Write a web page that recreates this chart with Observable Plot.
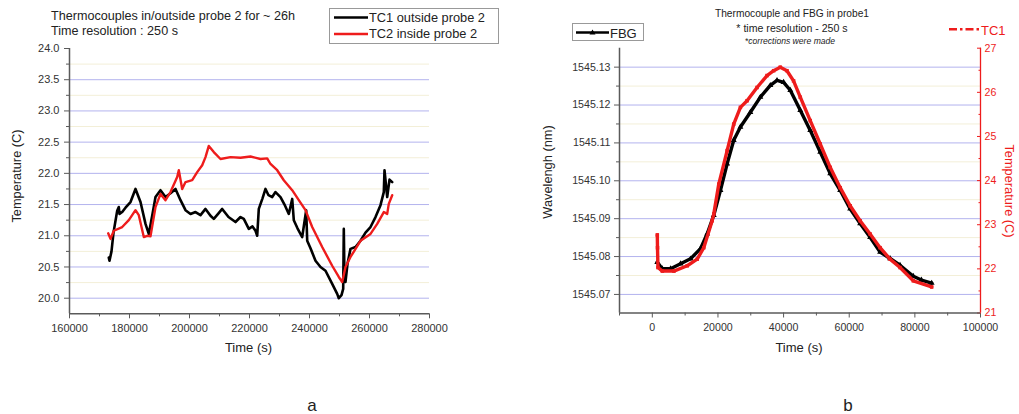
<!DOCTYPE html>
<html><head><meta charset="utf-8">
<script src="https://cdn.jsdelivr.net/npm/d3@7"></script>
<script src="https://cdn.jsdelivr.net/npm/@observablehq/plot@0.6"></script>
<style>
body{margin:0;background:#fff;font-family:"Liberation Sans",Arial,sans-serif;}
#wrap{position:relative;width:1019px;height:414px;overflow:hidden;background:#fff;}
.t{position:absolute;white-space:nowrap;color:#222;line-height:1;}
.rot{position:absolute;white-space:nowrap;line-height:1;transform:translate(-50%,-50%) rotate(-90deg);}
.rot90{position:absolute;white-space:nowrap;line-height:1;transform:translate(-50%,-50%) rotate(90deg);}
.box{position:absolute;border:1px solid #999;background:#fff;box-sizing:border-box;}
svg.plot{position:absolute;}
</style></head>
<body><div id="wrap"></div>
<script>
// ---------- Panel a: thermocouples in/outside probe 2 ----------
const aTimeDomain = [160000, 280000];
const aTempDomain = [19.75, 24.0];
const aTimeTicks = [160000, 180000, 200000, 220000, 240000, 260000, 280000];
const aTimeMinor = [170000, 190000, 210000, 230000, 250000, 270000];
const aTempTicks = [20.0, 20.5, 21.0, 21.5, 22.0, 22.5, 23.0, 23.5, 24.0];
const aTempMinor = [20.25, 20.75, 21.25, 21.75, 22.25, 22.75, 23.25, 23.75];
const aGrid = [20.0, 20.5, 21.0, 21.5, 22.0, 22.5, 23.0, 23.5];

const tc1Time = [173100,173333,174000,174667,175900,176433,176667,177567,178667,180333,182000,183667,185333,186433,187667,188667,190333,192000,193667,195333,197000,198667,200333,202000,203667,205333,207000,208100,209667,210900,213000,215333,217000,218100,219767,221000,222000,222567,223100,224333,225333,226333,227567,228667,230333,231667,233100,234233,234767,236000,237567,238900,239233,240333,242000,243667,245333,247567,249233,249767,250667,251233,251433,251667,252000,252667,253667,255333,257000,258667,260333,262000,263667,264767,265000,265900,266667,267567];
const tc1Temp = [20.65,20.60,20.75,21.05,21.40,21.46,21.35,21.38,21.45,21.54,21.75,21.54,21.19,21.03,21.35,21.62,21.73,21.62,21.68,21.75,21.57,21.41,21.35,21.38,21.33,21.43,21.32,21.27,21.36,21.43,21.30,21.22,21.30,21.27,21.11,21.15,21.08,21.00,21.43,21.60,21.75,21.65,21.62,21.70,21.62,21.50,21.35,21.59,21.25,21.12,20.98,21.41,20.92,20.80,20.60,20.50,20.44,20.23,20.07,20.00,20.05,20.15,21.11,20.30,20.26,20.55,20.79,20.82,20.92,21.05,21.14,21.30,21.49,21.70,22.05,21.62,21.90,21.86];

const tc2Time = [172900,173667,174767,177567,179767,182000,183100,184767,185900,187000,188667,190333,192000,193667,195900,196433,197567,198667,200900,202567,204233,205333,206433,208100,210333,213667,217000,220333,223667,225900,227000,229233,231433,234233,236433,238667,240900,244233,247567,249767,250900,252000,253667,257000,260333,262567,264767,265900,266433,267567];
const tc2Temp = [21.04,20.95,21.08,21.14,21.25,21.41,21.33,20.98,21.00,20.99,21.46,21.67,21.57,21.70,21.94,22.05,21.75,21.86,21.89,22.02,22.13,22.26,22.44,22.34,22.23,22.26,22.25,22.27,22.23,22.24,22.15,22.05,21.89,21.73,21.57,21.41,21.14,20.82,20.52,20.34,20.26,20.50,20.66,20.92,21.03,21.19,21.38,21.35,21.51,21.65];

// ---------- Panel b: thermocouple and FBG in probe 1 ----------
const bTimeDomain = [-10000, 100000];
const bWaveDomain = [1545.0651, 1545.1350];
const bTempDomain = [21, 27];
const bTimeTicks = [0, 20000, 40000, 60000, 80000, 100000];
const bTimeMinor = [-10000, 10000, 30000, 50000, 70000, 90000];
const bWaveTicks = [1545.07, 1545.08, 1545.09, 1545.10, 1545.11, 1545.12, 1545.13];
const bWaveMinor = [1545.075, 1545.085, 1545.095, 1545.105, 1545.115, 1545.125];
const bTempTicks = [21, 22, 23, 24, 25, 26, 27];
const bTempMinor = [21.5, 22.5, 23.5, 24.5, 25.5, 26.5];

const fbgTime = [1520,3040,5563,8603,11643,14683,16720,18726,20763,22800,24806,26843,29883,32923,35963,38000,40006,42043,45083,48123,51163,54203,57243,60283,63323,66363,69403,72443,75483,79526,82000,85120];
const fbgWave = [1545.0785,1545.0768,1545.0768,1545.0781,1545.0794,1545.0821,1545.0860,1545.0909,1545.0975,1545.1045,1545.1107,1545.1142,1545.1181,1545.1221,1545.1252,1545.1265,1545.1260,1545.1239,1545.1186,1545.1133,1545.1076,1545.1019,1545.0975,1545.0926,1545.0887,1545.0851,1545.0812,1545.0795,1545.0777,1545.0748,1545.0738,1545.0730];

const tcbTime = [1520,1580,1720,3040,6570,10640,13680,15680,18230,18726,20250,22800,24806,26843,28870,31910,34950,36970,38990,41020,43040,45083,48123,51163,54203,57243,60283,63323,66363,69403,72443,75483,79526,85120];
const tcbTemp = [22.77,22.48,22.03,21.95,21.95,22.07,22.22,22.48,23.09,23.24,23.92,24.68,25.28,25.66,25.81,26.11,26.38,26.49,26.57,26.49,26.26,25.89,25.36,24.83,24.30,23.84,23.43,23.09,22.79,22.48,22.22,22.03,21.73,21.59];

// ---------- build ----------
const wrap = document.getElementById("wrap");
const fmtInt = d3.format("d");
const font = "'Liberation Sans', Arial, sans-serif";
const axisGray = "#5a5a5a";
const gridBlue = "#b3b3ee";
const gridMinor = "#f3efd8";
const red = "#ee1c1c";

const tc1Rows = tc1Time.map((t, i) => ({t, v: tc1Temp[i]}));
const tc2Rows = tc2Time.map((t, i) => ({t, v: tc2Temp[i]}));

const plotA = Plot.plot({
  width: 449, height: 360,
  marginLeft: 69, marginRight: 20, marginTop: 48, marginBottom: 46.7,
  style: {fontFamily: font, fontSize: "11px", color: "#333", background: "transparent", overflow: "visible"},
  x: {domain: aTimeDomain},
  y: {domain: aTempDomain},
  marks: [
    Plot.ruleY(aTempMinor, {stroke: gridMinor, strokeWidth: 1}),
    Plot.ruleY(aGrid, {stroke: gridBlue, strokeWidth: 1}),
    Plot.axisX({ticks: aTimeTicks, tickSize: 5, tickPadding: 5, tickFormat: fmtInt, label: null, stroke: axisGray, fill: "#333"}),
    Plot.axisX({ticks: aTimeMinor, tickSize: 3, fill: "none", label: null, stroke: axisGray}),
    Plot.axisY({ticks: aTempTicks, tickSize: 5, tickPadding: 5, tickFormat: d3.format(".1f"), label: null, stroke: axisGray, fill: "#333"}),
    Plot.axisY({ticks: aTempMinor, tickSize: 3, fill: "none", label: null, stroke: axisGray}),
    Plot.ruleX([aTimeDomain[0]], {stroke: axisGray, strokeWidth: 1.5}),
    Plot.ruleY([aTempDomain[0]], {stroke: axisGray, strokeWidth: 1.5}),
    Plot.line(tc1Rows, {x: "t", y: "v", stroke: "#000", strokeWidth: 2.6, strokeLinejoin: "round"}),
    Plot.line(tc2Rows, {x: "t", y: "v", stroke: red, strokeWidth: 2.4, strokeLinejoin: "round"})
  ]
});
plotA.classList.add("plot");
plotA.style.left = "0px"; plotA.style.top = "0px";
wrap.appendChild(plotA);

// map right-axis temperature onto the wavelength scale (dual axis)
const toW = T => bWaveDomain[0] + (T - bTempDomain[0]) / (bTempDomain[1] - bTempDomain[0]) * (bWaveDomain[1] - bWaveDomain[0]);
const toT = W => bTempDomain[0] + (W - bWaveDomain[0]) / (bWaveDomain[1] - bWaveDomain[0]) * (bTempDomain[1] - bTempDomain[0]);

const fbgRows = fbgTime.map((t, i) => ({t, v: fbgWave[i]}));
const tcbRows = tcbTime.map((t, i) => ({t, v: toW(tcbTemp[i])}));

const plotB = Plot.plot({
  width: 489, height: 360,
  marginLeft: 89, marginRight: 39, marginTop: 47.7, marginBottom: 47.5,
  style: {fontFamily: font, fontSize: "10.6px", color: "#333", background: "transparent", overflow: "visible"},
  x: {domain: bTimeDomain},
  y: {domain: bWaveDomain},
  marks: [
    Plot.ruleY(bWaveMinor, {stroke: gridMinor, strokeWidth: 1}),
    Plot.ruleY(bWaveTicks, {stroke: gridBlue, strokeWidth: 1}),
    Plot.axisX({ticks: bTimeTicks, tickSize: 5, tickPadding: 5, tickFormat: fmtInt, label: null, stroke: axisGray, fill: "#333"}),
    Plot.axisX({ticks: bTimeMinor, tickSize: 3, fill: "none", label: null, stroke: axisGray}),
    Plot.axisY({ticks: bWaveTicks, tickSize: 5, tickPadding: 4, tickFormat: d3.format(".2f"), label: null, stroke: axisGray, fill: "#333"}),
    Plot.axisY({ticks: bWaveMinor, tickSize: 3, fill: "none", label: null, stroke: axisGray}),
    Plot.axisY({ticks: bTempTicks.map(toW), anchor: "right", tickSize: 0, tickPadding: 4, tickFormat: w => fmtInt(Math.round(toT(w))), label: null, fill: red}),
    Plot.axisY({ticks: bTempTicks.map(toW), anchor: "right", tickSize: 4, dx: -4, fill: "none", label: null, stroke: red}),
    Plot.axisY({ticks: bTempMinor.map(toW), anchor: "right", tickSize: 2.5, dx: -2.5, fill: "none", label: null, stroke: red}),
    Plot.ruleX([bTimeDomain[0]], {stroke: axisGray, strokeWidth: 1.5}),
    Plot.ruleY([bWaveDomain[0]], {stroke: axisGray, strokeWidth: 1.5}),
    Plot.ruleX([bTimeDomain[1]], {stroke: red, strokeWidth: 1.3}),
    Plot.line(fbgRows, {x: "t", y: "v", stroke: "#000", strokeWidth: 3.4, strokeLinejoin: "round"}),
    Plot.dot(fbgRows, {x: "t", y: "v", symbol: "triangle", r: 2.2, fill: "#000"}),
    Plot.line(tcbRows, {x: "t", y: "v", stroke: red, strokeWidth: 3.4, strokeLinejoin: "round"}),
    Plot.dot(tcbRows, {x: "t", y: "v", symbol: "square", r: 2, fill: red})
  ]
});
plotB.classList.add("plot");
plotB.style.left = "530px"; plotB.style.top = "0px";
wrap.appendChild(plotB);

// ---------- text & legends ----------
function addText(txt, left, baseline, size, extra = {}) {
  const d = document.createElement("div");
  d.className = "t";
  d.textContent = txt;
  d.style.left = left + "px";
  d.style.top = (baseline - 0.846 * size) + "px";
  d.style.fontSize = size + "px";
  Object.assign(d.style, extra);
  wrap.appendChild(d);
  return d;
}
function addCentered(txt, cx, baseline, size, extra = {}) {
  const d = addText(txt, cx, baseline, size, extra);
  d.style.transform = "translateX(-50%)";
  return d;
}
function addRot(txt, cx, cy, size, cls, color) {
  const d = document.createElement("div");
  d.className = cls;
  d.textContent = txt;
  d.style.left = cx + "px"; d.style.top = cy + "px";
  d.style.fontSize = size + "px";
  d.style.color = color;
  wrap.appendChild(d);
}

// panel a
addText("Thermocouples in/outside probe 2 for ~ 26h", 51, 20.5, 12.6);
addText("Time resolution : 250 s", 51, 36, 12.6);
addRot("Temperature (C)", 16.5, 176, 12.8, "rot", "#222");
addCentered("Time (s)", 248.5, 352, 13);
addCentered("a", 312, 411, 17);

const boxA = document.createElement("div");
boxA.className = "box";
Object.assign(boxA.style, {left: "329px", top: "8px", width: "170px", height: "36px"});
boxA.innerHTML =
  '<svg width="40" height="34" style="position:absolute;left:3px;top:0">' +
  '<line x1="1" x2="35" y1="8.5" y2="8.5" stroke="#000" stroke-width="2.6"/>' +
  '<line x1="1" x2="35" y1="25" y2="25" stroke="' + red + '" stroke-width="2.6"/></svg>' +
  '<div class="t" style="left:39px;top:2.6px;font-size:12.8px">TC1 outside probe 2</div>' +
  '<div class="t" style="left:39px;top:18.8px;font-size:12.8px">TC2 inside probe 2</div>';
wrap.appendChild(boxA);

// panel b
addCentered("Thermocouple and FBG in probe1", 792, 17.5, 10.2);
addCentered("* time resolution - 250 s", 792, 31.5, 10.6);
addCentered("*corrections were made", 790, 44.3, 8.6, {fontStyle: "italic"});
addRot("Wavelengh (nm)", 548, 172, 12.8, "rot", "#222");
addRot("Temperature (C)", 1009, 191, 12.8, "rot90", red);
addCentered("Time (s)", 799, 351.5, 13);
addCentered("b", 848, 411, 17);

const boxB = document.createElement("div");
boxB.className = "box";
Object.assign(boxB.style, {left: "572px", top: "23px", width: "72px", height: "18px"});
boxB.innerHTML =
  '<svg width="38" height="16" style="position:absolute;left:2px;top:0">' +
  '<line x1="1" x2="34" y1="8.5" y2="8.5" stroke="#000" stroke-width="2.4"/>' +
  '<path d="M17.5,5.5 L20.5,10.5 L14.5,10.5 Z" fill="#000"/></svg>' +
  '<div class="t" style="left:37px;top:3px;font-size:13px">FBG</div>';
wrap.appendChild(boxB);

const legB = document.createElement("div");
Object.assign(legB.style, {position: "absolute", left: "948px", top: "22px"});
legB.innerHTML =
  '<svg width="34" height="14" style="position:absolute;left:0;top:0">' +
  '<line x1="1" x2="32" y1="7.3" y2="7.3" stroke="' + red + '" stroke-width="2.6" stroke-dasharray="8,3,2.5,3"/></svg>' +
  '<div class="t" style="left:33px;top:1.5px;font-size:13px;color:' + red + '">TC1</div>';
wrap.appendChild(legB);
</script>
</body></html>
